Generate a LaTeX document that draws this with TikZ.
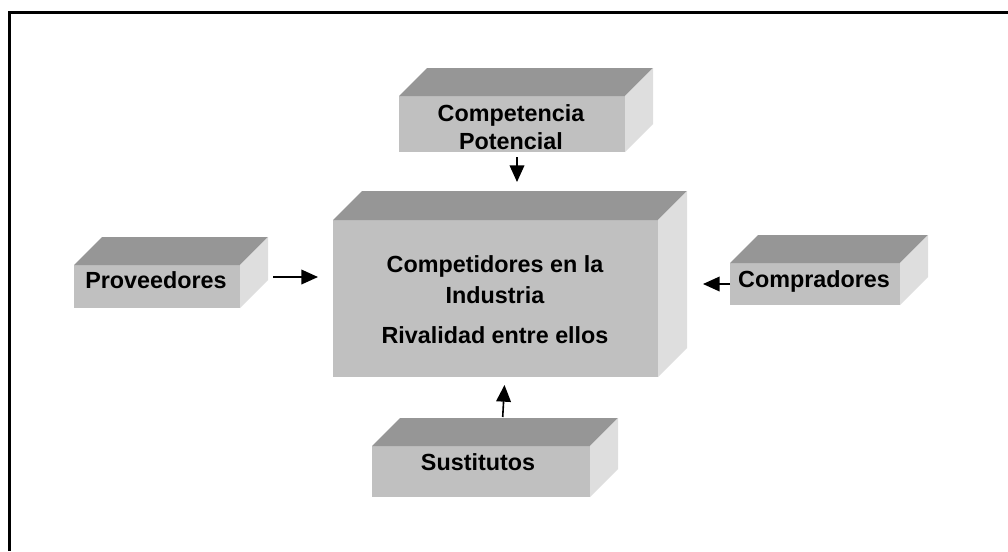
\documentclass[tikz,border=0pt]{standalone}
\usepackage{fontspec}
\setmainfont{Liberation Sans}
\usetikzlibrary{arrows.meta,calc}
\definecolor{cfront}{RGB}{192,192,192}
\definecolor{ctop}{RGB}{150,150,150}
\definecolor{cside}{RGB}{222,222,222}
\newcommand\mycube[6]{%
  \node[frontface,minimum width={(#4-#2)*0.75pt},minimum height={(#5-#3)*0.75pt}] (#1) at ({(#2+#4)/2},{(#3+#5)/2}) {};
  \fill[ctop] (#1.north west) -- ++(#6,-#6) -- ($(#1.north east)+(#6,-#6)$) -- (#1.north east) -- cycle;
  \fill[cside] (#1.north east) -- ++(#6,-#6) -- ($(#1.south east)+(#6,-#6)$) -- (#1.south east) -- cycle;
}
\begin{document}
\begin{tikzpicture}[x=0.75pt,y=-0.75pt,
  frontface/.style={fill=cfront,inner sep=0pt,outer sep=0pt},
  lbl/.style={font=\fontsize{17.5}{21}\selectfont\bfseries,anchor=base,inner sep=0pt},
  arr/.style={line width=1.2pt,-{Triangle[length=12.5pt,width=11pt]}}]
\useasboundingbox (0,0) rectangle (1008,551);
\draw[line width=2.25pt] (9.5,551) -- (9.5,12.5) -- (1008,12.5);

\mycube{cp}{399}{96}{625}{152}{28}
\mycube{main}{333}{220}{658}{377}{29}
\mycube{prov}{74}{265}{240}{308}{28}
\mycube{comp}{730}{263}{900}{305}{28}
\mycube{sust}{372}{446}{590}{497}{28}

\node[lbl] (cpa) at (511,121.5) {Competencia};
\node[lbl] (cpb) at (511,149.5) {Potencial};
\node[lbl] (ma) at (495,272) {Competidores en la};
\node[lbl] (mb) at (495,303) {Industria};
\node[lbl] (mc) at (495,343) {Rivalidad entre ellos};
\node[lbl] (pt) at (156,288) {Proveedores};
\node[lbl] (ct) at (814,287) {Compradores};
\node[lbl] (st) at (478,470) {Sustitutos};

\coordinate (p1) at (273,277);
\coordinate (p2) at (318,277);
\draw[arr] (p1) -- (p2);
\coordinate (k2) at (703,284);
\draw[arr] (comp.west) -- (k2);
\coordinate (c1) at (517,157);
\coordinate (c2) at (517,182);
\draw[arr] (c1) -- (c2);
\coordinate (s1) at (502.7,417);
\coordinate (s2) at (504.5,385);
\draw[arr] (s1) -- (s2);
\end{tikzpicture}
\end{document}
